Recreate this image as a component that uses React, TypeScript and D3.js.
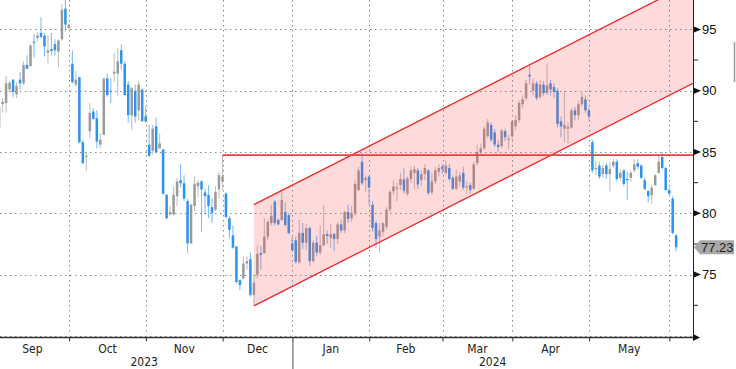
import React from 'react';
import * as d3 from 'd3';

const W = 736;
const H = 369;

// ---- data (daily OHLC, trading days from 2023-09-01 to 2024-06-04) ----
const openP = [
  87.0, 88.9, 89.0, 90.1, 90.9, 89.7, 90.9, 90.6, 92.1, 92.0, 94.0, 94.3, 94.7, 94.5, 93.1, 93.4, 93.8, 93.2, 94.2, 96.7, 95.1,
  92.2, 90.5, 91.1, 85.8, 84.6, 86.7, 88.3, 87.75, 85.6, 86.4, 91.0, 90.0, 91.4, 91.4, 93.3, 92.2, 90.5, 88.0, 90.0, 88.4, 90.1, 87.9,
  85.6, 85.1, 87.1, 85.3, 85.2, 81.5, 79.9, 79.9, 81.4, 82.7, 82.45, 81.0, 77.55, 80.6, 82.2, 82.6, 81.7, 81.5, 80.5, 80.3, 81.95, 82.6,
  81.6, 79.6, 78.2, 77.3, 74.55, 74.7, 75.9, 76.25, 73.35, 75.0, 76.75, 76.75, 78.1, 79.2, 80.95, 79.45, 79.45, 80.1, 79.85, 77.55,
  77.8, 76.0, 78.4, 77.6, 78.8, 76.1, 77.6, 76.8, 77.4, 78.3, 78.0, 78.3, 77.9, 79.1, 78.6, 80.1, 79.6, 80.0, 81.9, 84.2, 82.7, 83.0,
  80.7, 79.2, 78.1, 78.5, 78.9, 80.3, 81.8, 82.0, 82.3, 82.75, 81.6, 82.8, 83.3, 83.5, 82.7, 83.2, 83.5, 81.7, 82.6, 83.4, 83.8,
  83.3, 83.7, 82.9, 82.0, 82.6, 83.3, 82.1, 82.3, 82.0, 84.1, 85.0, 85.3, 86.3, 87.2, 86.6, 85.6, 85.5, 86.7, 86.0, 86.3,
  87.1, 87.6, 88.9, 89.4, 91.3, 90.0, 90.6, 89.5, 90.5, 89.8, 90.6, 90.3, 90.0, 87.5, 86.9, 86.9, 87.0, 88.4, 88.0, 88.9, 89.3, 88.4,
  85.8, 83.6, 83.9, 83.2, 83.9, 83.2, 83.9, 84.2, 82.9, 83.5, 82.8, 82.9, 83.5, 84.1, 83.9, 82.7, 81.8, 81.5, 82.3, 83.3, 84.6, 83.7, 81.9,
  81.2, 78.2,
];
const highP = [
  88.8, 89.4, 91.2, 90.8, 90.95, 90.7, 91.5, 92.4, 92.9, 93.75, 94.6, 94.8, 96.0, 94.7, 94.55, 94.7, 94.2, 94.2, 97.05, 97.6, 95.4,
  93.3, 91.6, 91.1, 86.0, 85.0, 89.0, 88.6, 88.4, 86.5, 91.0, 91.4, 91.0, 93.05, 93.5, 93.8, 92.45, 90.8, 90.3, 90.5, 90.8, 90.2, 88.7,
  87.2, 87.2, 87.8, 86.5, 85.25, 81.6, 80.6, 82.2, 82.85, 84.0, 83.1, 81.2, 80.8, 83.0, 82.7, 82.7, 82.0, 82.3, 81.2, 82.2, 83.4, 84.75,
  81.7, 79.8, 79.0, 77.3, 74.6, 76.46, 76.5, 76.8, 75.1, 77.4, 77.35, 79.6, 79.5, 80.7, 81.1, 79.6, 81.8, 80.9, 80.0, 78.1,
  78.1, 79.45, 79.2, 79.1, 78.9, 77.8, 78.2, 79.0, 80.7, 78.6, 79.1, 78.4, 79.3, 79.5, 80.2, 80.7, 80.6, 82.7, 83.8, 84.9, 83.1, 83.0,
  81.0, 79.4, 79.2, 79.3, 80.5, 81.9, 82.7, 82.5, 83.3, 83.7, 83.0, 83.8, 83.9, 83.7, 83.5, 84.0, 83.6, 83.3, 83.8, 84.0, 84.0,
  84.3, 84.0, 83.1, 83.6, 83.4, 83.8, 82.6, 82.5, 84.2, 85.6, 85.7, 87.1, 87.7, 87.4, 86.9, 86.0, 86.9, 86.9, 86.4, 87.6,
  88.0, 89.2, 89.6, 90.9, 92.0, 91.0, 90.8, 90.9, 90.8, 92.2, 90.9, 90.6, 90.2, 87.9, 90.0, 87.4, 88.6, 88.7, 89.2, 89.9, 89.6, 88.6,
  86.0, 84.3, 84.2, 84.0, 84.1, 84.2, 84.4, 84.4, 83.6, 83.6, 83.4, 83.5, 84.4, 84.4, 84.0, 82.9, 81.9, 82.3, 83.2, 84.75, 85.0, 83.8, 82.1,
  81.4, 78.3,
];
const lowP = [
  86.8, 88.2, 88.2, 89.9, 89.5, 89.4, 90.1, 90.5, 91.8, 92.0, 92.7, 94.0, 94.3, 92.8, 92.25, 92.9, 92.9, 91.9, 94.1, 94.8, 95.0,
  90.6, 90.3, 85.7, 84.0, 83.5, 86.1, 87.6, 85.3, 85.3, 86.4, 89.5, 89.0, 90.75, 89.6, 91.75, 89.6, 87.4, 86.8, 87.4, 87.6, 87.5, 87.4,
  84.6, 84.8, 84.9, 85.25, 81.5, 79.5, 79.8, 79.8, 80.6, 82.1, 81.0, 76.75, 77.5, 80.2, 81.35, 78.5, 79.9, 79.6, 79.2, 80.2, 81.2, 81.9,
  79.6, 78.0, 77.1, 74.3, 73.75, 74.6, 75.4, 73.2, 72.5, 74.7, 75.4, 76.7, 77.8, 79.0, 79.0, 79.0, 79.4, 78.9, 78.3, 76.9,
  75.9, 75.9, 77.1, 77.0, 75.7, 76.0, 76.5, 76.6, 77.3, 77.5, 77.2, 76.9, 77.5, 78.4, 78.4, 79.2, 79.3, 79.8, 81.8, 82.3, 81.7, 80.7,
  78.5, 77.2, 76.8, 78.1, 78.7, 80.1, 81.5, 81.0, 81.9, 81.6, 81.4, 82.5, 82.0, 82.0, 82.2, 82.7, 81.5, 81.5, 82.4, 83.0, 83.2,
  83.1, 82.6, 81.9, 81.9, 82.2, 81.9, 81.6, 81.6, 81.9, 83.9, 84.8, 85.2, 86.1, 85.8, 85.4, 85.0, 85.3, 85.9, 85.2, 86.0,
  86.8, 87.4, 88.6, 89.2, 90.5, 89.6, 89.2, 89.3, 89.6, 89.7, 89.6, 89.4, 87.0, 86.2, 85.8, 85.7, 86.9, 87.6, 87.6, 88.7, 88.2, 87.6,
  83.3, 83.1, 82.8, 82.9, 82.8, 81.8, 83.7, 82.6, 82.7, 82.2, 81.1, 82.6, 83.3, 83.6, 82.8, 81.9, 80.9, 80.8, 82.2, 83.2, 83.6, 81.8, 81.5,
  78.3, 76.9,
];
const closeP = [
  88.7, 89.1, 90.6, 90.65, 89.9, 90.4, 90.6, 92.1, 91.8, 93.7, 93.9, 94.5, 94.4, 93.6, 93.3, 93.25, 93.3, 94.1, 96.6, 95.4, 95.4,
  90.7, 90.9, 85.8, 84.1, 84.7, 88.2, 87.7, 85.85, 86.0, 91.0, 89.65, 89.9, 91.55, 92.4, 92.2, 89.65, 88.0, 90.2, 87.9, 90.5, 87.5, 87.5,
  84.7, 86.9, 85.0, 85.7, 81.6, 79.6, 80.1, 81.5, 82.6, 82.45, 81.2, 77.55, 80.7, 82.4, 82.5, 81.95, 81.4, 80.6, 80.05, 81.75, 83.1, 83.0,
  79.7, 78.65, 77.2, 74.4, 74.15, 75.9, 76.1, 73.35, 74.35, 76.7, 76.6, 78.1, 79.3, 79.8, 79.2, 79.1, 81.1, 79.05, 78.4, 77.0,
  76.05, 78.4, 77.6, 78.8, 76.1, 77.6, 76.8, 77.4, 78.3, 78.15, 78.3, 77.9, 79.1, 78.6, 80.1, 79.55, 80.0, 82.4, 83.5, 82.45, 82.9, 82.1,
  78.8, 77.9, 78.6, 79.2, 80.3, 81.75, 82.2, 82.1, 82.8, 81.85, 82.85, 83.5, 83.6, 82.35, 83.2, 83.7, 81.65, 82.6, 83.5, 83.7, 83.6,
  83.9, 82.8, 82.0, 83.0, 83.1, 82.1, 82.2, 81.9, 84.0, 85.0, 85.3, 86.9, 87.4, 86.0, 85.6, 85.4, 86.75, 86.2, 86.1, 87.5,
  87.6, 89.0, 89.3, 90.6, 91.15, 90.6, 89.4, 90.5, 89.8, 90.45, 90.1, 89.9, 87.3, 87.1, 87.2, 87.05, 88.4, 88.0, 88.9, 89.5, 88.4, 87.9,
  83.5, 83.7, 83.0, 83.7, 83.2, 83.6, 84.2, 82.8, 83.3, 82.4, 82.7, 83.3, 84.0, 83.8, 82.9, 82.0, 81.4, 82.1, 83.1, 84.2, 83.7, 81.9, 81.6,
  78.4, 77.23,
];

const holidays = ['2023-12-25', '2024-01-01', '2024-03-29'];
const firstDay = '2023-09-01';
const lastDay = '2024-06-04';

const monthLabels = ['Sep', 'Oct', 'Nov', 'Dec', 'Jan', 'Feb', 'Mar', 'Apr', 'May'];
const yearLabels = ['2023', '2024'];
const yTicks = [75, 80, 85, 90, 95];
const yMinorTicks = [72.5, 77.5, 82.5, 87.5, 92.5];
const gridValues = [70, 75, 80, 85, 90, 95];
const lastPriceLabel = '77.23';

// technical-analysis overlays
const resistanceLevel = 84.75;
const resistanceStart = '2023-11-30';
const channelStart = '2023-12-13';
const channelLowerAtStart = 72.45;
const channelSlopePerDay = 0.1443;
const channelHeight = 8.26;

const fmt = d3.timeFormat('%Y-%m-%d');
const days = d3.timeDay
  .range(new Date(firstDay + 'T00:00:00'), d3.timeDay.offset(new Date(lastDay + 'T00:00:00'), 1))
  .filter((d) => d.getDay() !== 0 && d.getDay() !== 6 && !holidays.includes(fmt(d)));
const dayKeys = days.map(fmt);

const PLOT_R = 693;
const AXIS_Y = 337.5;

export default function App() {
  const x = d3.scaleLinear().domain([0, dayKeys.length - 1]).range([-0.9, -0.9 + 3.49 * (dayKeys.length - 1)]);
  const y = d3.scaleLinear().domain([70, 97.4]).range([335.9, 0]);

  // month boundaries (first trading day of each month)
  const monthStarts: number[] = [];
  dayKeys.forEach((k, i) => {
    if (i === 0 || k.slice(0, 7) !== dayKeys[i - 1].slice(0, 7)) monthStarts.push(i);
  });
  const boundX = monthStarts.map((i) => x(i) - 3.3);
  const jan = dayKeys.findIndex((k) => k.startsWith('2024-01'));
  const yearX = x(jan) - 3.3;

  const i0 = dayKeys.indexOf(channelStart);
  const iEnd = x.invert(PLOT_R);
  const lower = (i: number) => channelLowerAtStart + channelSlopePerDay * (i - i0);
  const chanPts: [number, number][] = [
    [x(i0), y(lower(i0))],
    [x(iEnd), y(lower(iEnd))],
    [x(iEnd), y(lower(iEnd) + channelHeight)],
    [x(i0), y(lower(i0) + channelHeight)],
  ];
  const rs = dayKeys.indexOf(resistanceStart);

  const gray = '#9a9a9a';
  const blue = '#2b93f3';
  const font = "'Liberation Sans', Arial, sans-serif";
  const narrow = "'Liberation Sans Narrow', 'DejaVu Sans Condensed', 'Roboto Condensed', Arial, sans-serif";

  const lastY = y(closeP[closeP.length - 1]);

  return (
    <svg width={W} height={H} style={{ position: 'fixed', left: 0, top: 0, background: '#fff' }}>
      <defs>
        <clipPath id="plot">
          <rect x={0} y={0} width={PLOT_R} height={AXIS_Y} />
        </clipPath>
      </defs>
      {/* gridlines */}
      <g stroke="#8a8a8a" strokeWidth={1} strokeDasharray="1.5,3.5">
        {gridValues.map((v) => (
          <line key={v} x1={0} x2={PLOT_R} y1={Math.round(y(v)) + 0.5} y2={Math.round(y(v)) + 0.5} />
        ))}
        {boundX.slice(1).map((bx, k) => (
          <line key={k} x1={Math.round(bx) + 0.5} x2={Math.round(bx) + 0.5} y1={0} y2={335} />
        ))}
      </g>
      <g clipPath="url(#plot)">
        {/* candles */}
        {closeP.map((c, i) => {
          const o = openP[i];
          const up = c >= o;
          const col = up ? gray : blue;
          const cx = x(i);
          const top = y(Math.max(o, c));
          const bot = y(Math.min(o, c));
          return (
            <g key={i}>
              <line x1={cx} x2={cx} y1={y(highP[i])} y2={y(lowP[i])} stroke={col} strokeOpacity={0.6} strokeWidth={1.1} />
              <rect x={cx - 1.25} y={top} width={2.5} height={Math.max(1.2, bot - top)} fill={col} />
            </g>
          );
        })}
        {/* channel */}
        <path d={d3.line()(chanPts) + 'Z'} fill="rgba(255,70,70,0.2)" stroke="none" />
        <line x1={chanPts[0][0]} y1={chanPts[0][1]} x2={chanPts[1][0]} y2={chanPts[1][1]} stroke="#ee2a2a" strokeWidth={1.3} />
        <line x1={chanPts[3][0]} y1={chanPts[3][1]} x2={chanPts[2][0]} y2={chanPts[2][1]} stroke="#ee2a2a" strokeWidth={1.3} />
        <line x1={x(rs)} x2={PLOT_R} y1={y(resistanceLevel)} y2={y(resistanceLevel)} stroke="#ef4040" strokeWidth={1.8} />
      </g>
      {/* right axis */}
      <line x1={PLOT_R + 0.5} x2={PLOT_R + 0.5} y1={0} y2={AXIS_Y} stroke="#222" strokeWidth={1} />
      {yTicks.map((v) => (
        <g key={v}>
          <path d={`M${PLOT_R + 1},${y(v) - 3} L${PLOT_R + 8},${y(v)} L${PLOT_R + 1},${y(v) + 3} Z`} fill="#111" />
          <text x={PLOT_R + 9} y={y(v)} dy="0.36em" fontFamily={font} fontSize={13} fill="#111">
            {v}
          </text>
        </g>
      ))}
      {yMinorTicks.map((v) => (
        <line key={v} x1={PLOT_R + 1} x2={PLOT_R + 5} y1={y(v)} y2={y(v)} stroke="#222" strokeWidth={1} />
      ))}
      {/* last price label */}
      <path
        d={`M${PLOT_R + 1},${lastY} L${PLOT_R + 7},${lastY - 7} L${W - 2},${lastY - 7} L${W - 2},${lastY + 7} L${PLOT_R + 7},${lastY + 7} Z`}
        fill="#a8a8a8"
      />
      <text x={PLOT_R + 8} y={lastY} dy="0.36em" fontFamily={font} fontSize={13} fill="#222">
        {lastPriceLabel}
      </text>
      <line x1={734.5} x2={734.5} y1={42} y2={82} stroke="#9a9a9a" strokeWidth={1.5} />
      {/* bottom axis */}
      <line x1={0} x2={PLOT_R} y1={AXIS_Y} y2={AXIS_Y} stroke="#333" strokeWidth={1.4} />
      <path d={`M${PLOT_R},${AXIS_Y - 3.5} L${PLOT_R + 7},${AXIS_Y} L${PLOT_R},${AXIS_Y + 3.5} Z`} fill="#111" />
      {boundX.slice(1).map((bx, k) => (
        <line key={k} x1={bx + 0.5} x2={bx + 0.5} y1={AXIS_Y} y2={AXIS_Y + 4} stroke="#333" strokeWidth={1} />
      ))}
      {monthLabels.map((m, k) => {
        const a = boundX[k];
        const b = k + 1 < boundX.length ? boundX[k + 1] : PLOT_R;
        return (
          <text key={m} x={(a + b) / 2} y={353} textAnchor="middle" fontFamily={narrow} fontSize={12} fill="#222">
            {m}
          </text>
        );
      })}
      <line x1={yearX + 0.5} x2={yearX + 0.5} y1={341} y2={369} stroke="#555" strokeWidth={1} />
      <text x={(boundX[0] + yearX) / 2} y={366} textAnchor="middle" fontFamily={narrow} fontSize={12} fill="#222">
        {yearLabels[0]}
      </text>
      <text x={(yearX + PLOT_R) / 2} y={366} textAnchor="middle" fontFamily={narrow} fontSize={12} fill="#222">
        {yearLabels[1]}
      </text>
    </svg>
  );
}
